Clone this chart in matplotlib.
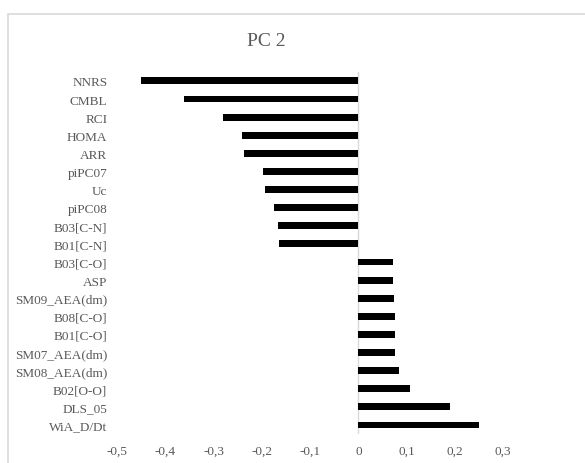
import matplotlib
matplotlib.use('Agg')
from matplotlib import pyplot as plt
from matplotlib.patches import Rectangle
from matplotlib.ticker import FuncFormatter

# Loadings on PC 2, top to bottom as in the chart
labels = ['NNRS', 'CMBL', 'RCI', 'HOMA', 'ARR', 'piPC07', 'Uc', 'piPC08',
          'B03[C-N]', 'B01[C-N]', 'B03[C-O]', 'ASP', 'SM09_AEA(dm)', 'B08[C-O]',
          'B01[C-O]', 'SM07_AEA(dm)', 'SM08_AEA(dm)', 'B02[O-O]', 'DLS_05', 'WiA_D/Dt']
values = [-0.450, -0.362, -0.281, -0.240, -0.236, -0.198, -0.193, -0.175,
          -0.166, -0.165, 0.071, 0.071, 0.074, 0.076,
          0.076, 0.077, 0.085, 0.107, 0.191, 0.250]
xticks = [-0.5, -0.4, -0.3, -0.2, -0.1, 0, 0.1, 0.2, 0.3]

plt.rcParams['font.family'] = ['Liberation Serif', 'DejaVu Serif']
grey = '#595959'

fig = plt.figure(figsize=(5.85, 4.64), dpi=100)
# light border of the chart area (cropped on right and bottom)
fig.patches.append(Rectangle((8 / 585, -0.1), 1.1, 1 - 15 / 464 + 0.1,
                             transform=fig.transFigure, fill=False,
                             edgecolor='#d9d9d9', linewidth=1.2))

ax = fig.add_axes([0.2, 0.0625, 0.66, 0.7805])
ypos = list(range(len(labels)))
ax.barh(ypos, values, height=0.38, color='black')
ax.axvline(0, color='#d9d9d9', linewidth=1, zorder=0)

ax.set_ylim(len(labels) - 0.5, -0.5)
ax.set_xlim(-0.5, 0.3)
ax.set_yticks(ypos)
ax.set_yticklabels(labels)
ax.set_xticks(xticks)
ax.xaxis.set_major_formatter(FuncFormatter(
    lambda v, p: '0' if abs(v) < 1e-9 else ('%.1f' % v).replace('.', ',')))
ax.tick_params(axis='both', length=0, colors=grey, labelsize=9.5)
ax.tick_params(axis='y', pad=7)
ax.tick_params(axis='x', pad=8)
for s in ax.spines.values():
    s.set_visible(False)

fig.text(266 / 585, 1 - 41 / 464, 'PC 2', ha='center', va='center',
         fontsize=14, color=grey)

fig.savefig('out.png', dpi=100)
